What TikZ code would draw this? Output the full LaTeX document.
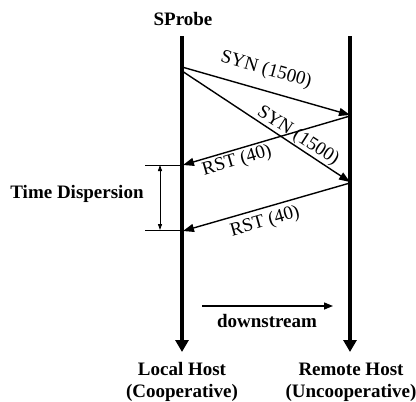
\documentclass[tikz,border=0pt]{standalone}
\usepackage{fontspec}
\setmainfont{Liberation Serif}
\usetikzlibrary{arrows.meta}
\begin{document}
\begin{tikzpicture}[x=1pt,y=-1pt,
  txt/.style={font=\fontsize{19}{21}\selectfont, inner sep=0pt},
  lbl/.style={font=\fontsize{19}{22}\selectfont\bfseries, inner sep=0pt, align=center},
  msg/.style={line width=1.4pt, -{Triangle[length=11pt,width=8pt]}},
  life/.style={line width=3.8pt, -{Triangle[length=12pt,width=13pt]}},
  thin/.style={line width=0.9pt},
  disp/.style={line width=0.9pt, {Triangle[length=6pt,width=4pt]}-{Triangle[length=6pt,width=4pt]}},
  down/.style={line width=1.4pt, -{Triangle[length=9pt,width=7pt]}}]
\useasboundingbox (0,0) rectangle (416,402);
% lifelines
\coordinate (Ltop) at (182,36);
\coordinate (Lbot) at (182,352);
\coordinate (Rtop) at (350,36);
\coordinate (Rbot) at (350,352);
\draw[life] (Ltop) -- (Lbot);
\draw[life] (Rtop) -- (Rbot);
\node[lbl] (sprobe) at (183,19) {SProbe};
\node[lbl] (local) at (182,382) {Local Host\\(Cooperative)};
\node[lbl] (remote) at (351,382) {Remote Host\\(Uncooperative)};
% message endpoints
\coordinate (s1a) at (182,67);
\coordinate (s1b) at (350,115);
\coordinate (s2a) at (182,71);
\coordinate (s2b) at (350,182);
\coordinate (r1a) at (350,116);
\coordinate (r1b) at (183,165);
\coordinate (r2a) at (350,183);
\coordinate (r2b) at (183,231);
\draw[msg] (s1a) -- (s1b);
\draw[msg] (s2a) -- (s2b);
\draw[msg] (r1a) -- (r1b);
\draw[msg] (r2a) -- (r2b);
\node[txt, rotate=-15.6] (syn1) at (266,70) {SYN (1500)};
\node[txt, rotate=-33] (syn2) at (298,136) {SYN (1500)};
\node[txt, rotate=16.3] (rst1) at (237,161) {RST (40)};
\node[txt, rotate=16] (rst2) at (265,222) {RST (40)};
% time dispersion
\coordinate (d1a) at (145,165);
\coordinate (d1b) at (182,165);
\coordinate (d2a) at (145,230);
\coordinate (d2b) at (182,230);
\coordinate (dv1) at (160,165);
\coordinate (dv2) at (160,230);
\draw[thin] (d1a) -- (d1b);
\draw[thin] (d2a) -- (d2b);
\draw[disp] (dv1) -- (dv2);
\node[lbl] (td) at (77,194) {Time Dispersion};
% downstream
\coordinate (ds1) at (202,306);
\coordinate (ds2) at (333,306);
\draw[down] (ds1) -- (ds2);
\node[lbl] (dstext) at (267,321) {downstream};
\end{tikzpicture}
\end{document}
